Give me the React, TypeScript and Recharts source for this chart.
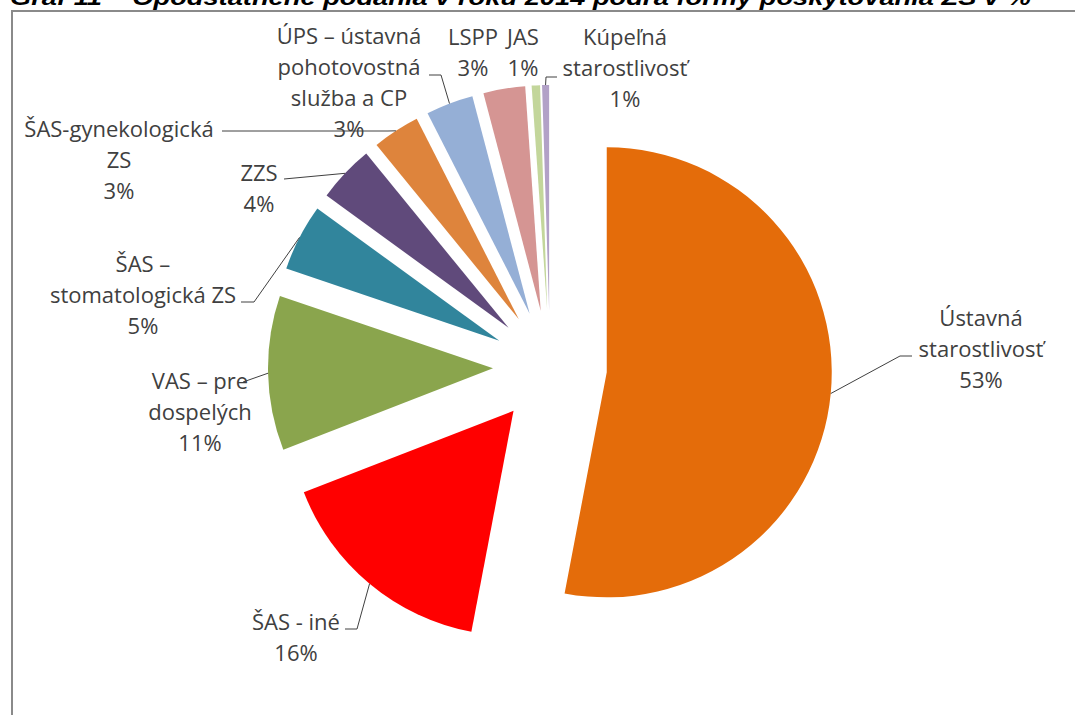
import React from 'react';
import { PieChart, Pie, Cell } from 'recharts';

// shares in % (labels show rounded values)
const categories = [
  'Ústavná starostlivosť',
  'ŠAS - iné',
  'VAS – pre dospelých',
  'ŠAS – stomatologická ZS',
  'ZZS',
  'ŠAS-gynekologická ZS',
  'ÚPS – ústavná pohotovostná služba a CP',
  'LSPP',
  'JAS',
  'Kúpeľná starostlivosť',
];
const shares = [53.0, 16.1, 11.1, 4.8, 4.1, 3.4, 3.4, 3.0, 0.6, 0.5];
const labelText = [
  ['Ústavná', 'starostlivosť'],
  ['ŠAS - iné'],
  ['VAS – pre', 'dospelých'],
  ['ŠAS –', 'stomatologická ZS'],
  ['ZZS'],
  ['ŠAS-gynekologická', 'ZS'],
  ['ÚPS – ústavná', 'pohotovostná', 'služba a CP'],
  ['LSPP'],
  ['JAS'],
  ['Kúpeľná', 'starostlivosť'],
];
const colors = [
  '#E46C0A', '#FF0000', '#8AA54D', '#31859C', '#604A7B',
  '#DE843C', '#95AFD6', '#D59593', '#C3D69B', '#B2A1C7',
];

const title = 'Graf 11 – Opodstatnené podania v roku 2014 podľa formy poskytovania ZS v %';

// label placement (text centre x, first line y) and leader elbows
const labelLayout: { x: number; y: number; leader: number[][] }[] = [
  { x: 981, y: 317, leader: [[900, 356], [912, 356]] },
  { x: 296, y: 621, leader: [[357, 629], [345, 629]] },
  { x: 200, y: 380, leader: [[243, 382]] },
  { x: 143, y: 263, leader: [[254, 302], [241, 302]] },
  { x: 259, y: 172, leader: [[284, 179]] },
  { x: 119, y: 128, leader: [[388, 131], [222, 131]] },
  { x: 349, y: 35, leader: [[441, 75], [429, 75]] },
  { x: 473, y: 36, leader: [] },
  { x: 523, y: 36, leader: [] },
  { x: 625, y: 36, leader: [[546, 77], [557, 77]] },
];

const data = categories.map((name, i) => ({ name, value: shares[i] }));

const W = 1075;
const H = 715;
const CX = 550;
const CY = 367;
const R = 225;
const EXPLODE = 57;
const LINE_H = 31;
const RAD = Math.PI / 180;
const FONT = '"Open Sans", sans-serif';

const total = shares.reduce((a, b) => a + b, 0);
const offsets = shares.map((v, i) => {
  const before = shares.slice(0, i).reduce((a, b) => a + b, 0);
  const theta = ((before + v / 2) / total) * 2 * Math.PI;
  return { dx: EXPLODE * Math.sin(theta), dy: -EXPLODE * Math.cos(theta) };
});

const makeLabel = (k: number) => (props: any) => {
  if (props.index !== k) return null;
  const { cx, cy, midAngle, outerRadius } = props;
  const ax = cx + outerRadius * Math.cos(-midAngle * RAD);
  const ay = cy + outerRadius * Math.sin(-midAngle * RAD);
  const lay = labelLayout[k];
  const lines = [...labelText[k], `${Math.round(shares[k])}%`];
  const pts = [[ax, ay], ...lay.leader].map((p) => p.join(',')).join(' ');
  return (
    <g>
      {lay.leader.length > 0 && (
        <polyline points={pts} fill="none" stroke="#404040" strokeWidth={1} />
      )}
      {lines.map((t, i) => (
        <text
          key={i}
          x={lay.x}
          y={lay.y + i * LINE_H}
          textAnchor="middle"
          dominantBaseline="central"
          fontFamily={FONT}
          fontSize={22}
          fill="#404040"
        >
          {t}
        </text>
      ))}
    </g>
  );
};

export default function App() {
  return (
    <div style={{ position: 'absolute', left: 0, top: 0, width: W, height: H, overflow: 'hidden', background: '#fff' }}>
      <svg width={W} height={H} style={{ position: 'absolute', left: 0, top: 0 }}>
        <text
          x={10}
          y={5}
          fontFamily='"Liberation Sans", Arial, sans-serif'
          fontStyle="italic"
          fontWeight="bold"
          fontSize={22}
          fill="#000"
          textLength={1021}
          lengthAdjust="spacingAndGlyphs"
        >
          {title}
        </text>
        <rect x={12} y={11} width={W + 20} height={H + 20} fill="none" stroke="#8a8a8a" strokeWidth={2} />
      </svg>
      <div style={{ position: 'absolute', left: 0, top: 0 }}>
        <PieChart width={W} height={H} margin={{ top: 0, right: 0, bottom: 0, left: 0 }}>
          {shares.map((_, k) => (
            <Pie
              key={k}
              data={data}
              dataKey="value"
              nameKey="name"
              cx={CX + offsets[k].dx}
              cy={CY + offsets[k].dy}
              outerRadius={R}
              innerRadius={0}
              startAngle={90}
              endAngle={-270}
              stroke="none"
              labelLine={false}
              label={makeLabel(k)}
              isAnimationActive={false}
            >
              {data.map((d, i) => (
                <Cell key={d.name} fill={i === k ? colors[i] : 'none'} />
              ))}
            </Pie>
          ))}
        </PieChart>
      </div>
    </div>
  );
}
